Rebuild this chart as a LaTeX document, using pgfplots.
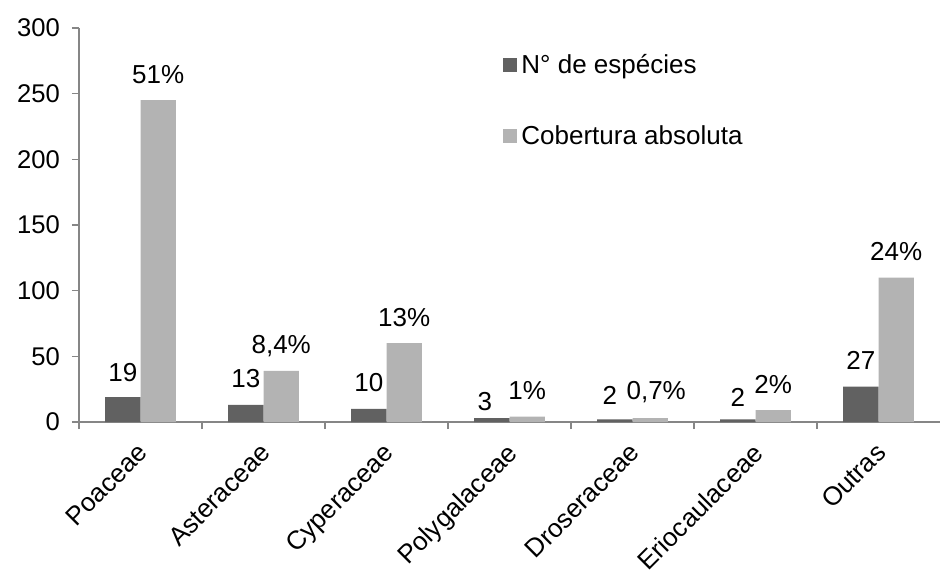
\documentclass[border=0pt]{standalone}
\usepackage{fontspec}
\setmainfont{Liberation Sans}
\usepackage{pgfplots}
\usepackage{pgfplotstable}
\pgfplotsset{compat=1.18}
\definecolor{darkbar}{HTML}{616161}
\definecolor{lightbar}{HTML}{B3B3B3}
\definecolor{axisgray}{HTML}{868686}
% x value label dx dy (label offsets in pt)
\pgfplotstableread{
x y   lab  dx   dy
0 19  19   0    -0.5
1 13  13   0    0
2 10  10   0    0
3 3   3    -3.5 -4.8
4 2   2    -2.5 -1.3
5 2   2    0    -2.1
6 27  27   0    0
}\especies
\pgfplotstableread{
x y   lab    dx  dy
0 245 51\%   0   0
1 39  8,4\%  0   0
2 60  13\%   0   0
3 4   1\%    0   0
4 3   0,7\%  3   0.8
5 9   2\%    0   0
6 110 24\%   0   0
}\cobertura
\begin{document}
\begin{tikzpicture}
\begin{axis}[
  name=ax, at={(0,0)}, anchor=south west,
  scale only axis, width=430.5pt, height=197pt,
  xmin=-0.5, xmax=6.5, ymin=0, ymax=300,
  axis x line*=bottom, axis y line*=left,
  axis line style={draw=axisgray, line width=0.8pt},
  ybar=0pt, bar width=17.7pt,
  every axis plot/.append style={draw=none},
  tick align=outside,
  ytick={0,50,...,300},
  y tick style={draw=axisgray, line width=0.8pt},
  major tick length=3.5pt,
  xtick={0,...,6},
  xticklabels={Poaceae,Asteraceae,Cyperaceae,Polygalaceae,Droseraceae,Eriocaulaceae,Outras},
  x tick style={draw=none},
  extra x ticks={-0.5,0.5,1.5,2.5,3.5,4.5,5.5},
  extra x tick labels={},
  extra x tick style={x tick style={draw=axisgray, line width=0.8pt}},
  x tick label style={rotate=45, anchor=north east, inner sep=0pt, xshift=-5.8pt, yshift=-2.9pt, font=\fontsize{13}{15}\selectfont},
  y tick label style={xshift=-2.5pt, font=\fontsize{12.8}{15}\selectfont},
  /pgf/number format/assume math mode=true,
  nodes near coords,
  point meta=explicit symbolic,
  visualization depends on={\thisrow{dx} \as \ldx},
  visualization depends on={\thisrow{dy} \as \ldy},
  every node near coord/.append style={font=\fontsize{13}{15}\selectfont, anchor=base, inner sep=0pt,
     xshift=\ldx pt, yshift=8.5pt+\ldy pt},
  legend style={draw=none, fill=none, at={(0.4925,0.945)}, anchor=north west,
    font=\fontsize{13}{15}\selectfont, row sep=20.5pt, inner sep=0pt},
  legend cell align=left,
  legend image code/.code={\fill[#1] (0pt,-3.5pt) rectangle (7pt,3.5pt);},
  clip=false,
]
\addplot[fill=darkbar] table[x=x, y=y, meta=lab] {\especies};
\addlegendentry{N° de espécies}
\addplot[fill=lightbar] table[x=x, y=y, meta=lab] {\cobertura};
\addlegendentry{Cobertura absoluta}
\end{axis}
\pgfresetboundingbox
\path (ax.south west) ++(-39.5pt,-75pt) rectangle ++(470pt,286pt);
\end{tikzpicture}
\end{document}
